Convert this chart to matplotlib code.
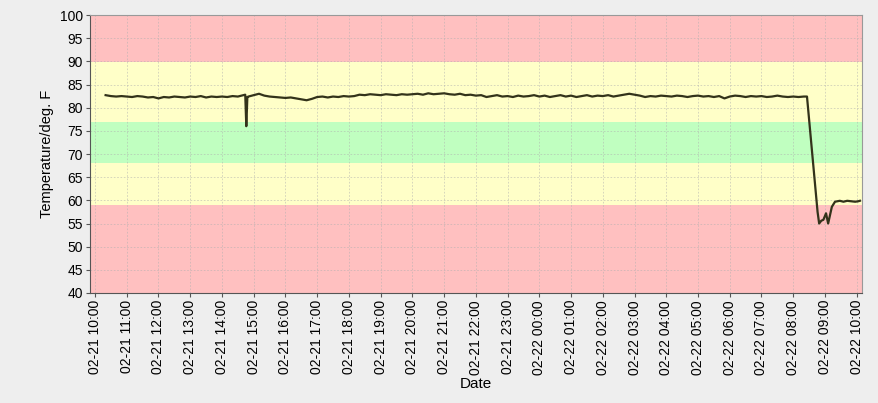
import numpy as np
import pandas as pd
import matplotlib
matplotlib.use("Agg")
import matplotlib.pyplot as plt
import matplotlib.dates as mdates

# temperature read every 10 min, 02-21 10:20 .. 02-22 08:20
grid_start = "2021-02-21 10:20"
grid_temps = [
    82.7, 82.5, 82.4, 82.5,                      # 10:20-10:50
    82.4, 82.3, 82.5, 82.4, 82.2, 82.3,          # 11
    82.0, 82.3, 82.2, 82.4, 82.3, 82.2,          # 12
    82.4, 82.3, 82.5, 82.2, 82.4, 82.3,          # 13
    82.4, 82.3, 82.5, 82.4, 82.7, 82.4,          # 14
    82.7, 83.0, 82.6, 82.4, 82.3, 82.2,          # 15
    82.1, 82.2, 82.0, 81.8, 81.6, 81.9,          # 16
    82.3, 82.4, 82.2, 82.4, 82.3, 82.5,          # 17
    82.4, 82.5, 82.8, 82.7, 82.9, 82.8,          # 18
    82.7, 82.9, 82.8, 82.7, 82.9, 82.8,          # 19
    82.9, 83.0, 82.8, 83.1, 82.9, 83.0,          # 20
    83.1, 82.9, 82.8, 83.0, 82.7, 82.8,          # 21
    82.6, 82.7, 82.3, 82.5, 82.7, 82.4,          # 22
    82.5, 82.3, 82.6, 82.4, 82.5, 82.7,          # 23
    82.4, 82.6, 82.3, 82.5, 82.7, 82.4,          # 00
    82.6, 82.3, 82.5, 82.7, 82.4, 82.6,          # 01
    82.5, 82.7, 82.4, 82.6, 82.8, 83.0,          # 02
    82.8, 82.6, 82.3, 82.5, 82.4, 82.6,          # 03
    82.5, 82.4, 82.6, 82.5, 82.3, 82.5,          # 04
    82.6, 82.4, 82.5, 82.3, 82.5, 82.0,          # 05
    82.4, 82.6, 82.5, 82.3, 82.5, 82.4,          # 06
    82.5, 82.3, 82.4, 82.6, 82.4, 82.3,          # 07
    82.4, 82.3, 82.4,                            # 08:00-08:20
]

# extra readings: door-open spike and the evening drop
event_times = [
    "2021-02-21 14:44", "2021-02-21 14:46", "2021-02-21 14:48",
    "2021-02-22 08:26", "2021-02-22 08:46", "2021-02-22 08:49",
    "2021-02-22 08:53", "2021-02-22 08:57", "2021-02-22 09:02",
    "2021-02-22 09:06", "2021-02-22 09:13", "2021-02-22 09:19",
    "2021-02-22 09:28", "2021-02-22 09:35", "2021-02-22 09:42",
    "2021-02-22 09:50", "2021-02-22 09:57", "2021-02-22 10:03",
    "2021-02-22 10:06",
]
event_temps = [
    82.8, 76.0, 82.3,
    82.4, 57.5, 55.0,
    55.6, 55.8, 57.2,
    55.0, 58.6, 59.7,
    59.9, 59.7, 59.9,
    59.8, 59.7, 59.8,
    59.9,
]

# comfort bands (low, high, colour)
band_edges = [40, 59, 68, 77, 89.8, 100]
band_colors = ["#ffc0c0", "#ffffc8", "#c0ffc0", "#ffffc8", "#ffc0c0"]

grid_times = pd.date_range(grid_start, periods=len(grid_temps), freq="10min")
series = pd.concat([
    pd.Series(grid_temps, index=grid_times),
    pd.Series(event_temps, index=pd.to_datetime(event_times)),
]).sort_index()

plt.rcParams["font.family"] = ["Liberation Sans", "DejaVu Sans"]

fig = plt.figure(figsize=(8.79, 4.03), dpi=100, facecolor="#eeeeee")
ax = fig.add_axes([90 / 879, 1 - 293 / 403, 772 / 879, 278 / 403])

for lo, hi, c in zip(band_edges[:-1], band_edges[1:], band_colors):
    ax.axhspan(lo, hi, color=c, lw=0, zorder=0)

ax.plot(series.index, series.values, color="#33331a", lw=1.6, zorder=3)

ax.set_ylim(40, 100)
ax.set_yticks(np.arange(40, 101, 5))
ax.set_xlim(pd.Timestamp("2021-02-21 09:50:30"), pd.Timestamp("2021-02-22 10:10:00"))
ax.xaxis.set_major_locator(mdates.HourLocator())
ax.xaxis.set_major_formatter(mdates.DateFormatter("%m-%d %H:%M"))
plt.setp(ax.get_xticklabels(), rotation=90)

ax.grid(True, color="#b0b0b0", lw=0.6, ls=(0, (2, 2)), alpha=0.6, zorder=1)
ax.tick_params(labelsize=10, length=3, width=0.8, color="#555555", pad=2)
ax.set_ylabel("Temperature/deg. F", fontsize=10.5, labelpad=4)
ax.set_xlabel("Date", fontsize=11, labelpad=2)

for side in ["left", "bottom"]:
    ax.spines[side].set_color("#555555")
for side in ["top", "right"]:
    ax.spines[side].set_color("#999999")
    ax.spines[side].set_linewidth(0.8)

fig.savefig("out.png", dpi=100, facecolor=fig.get_facecolor())
